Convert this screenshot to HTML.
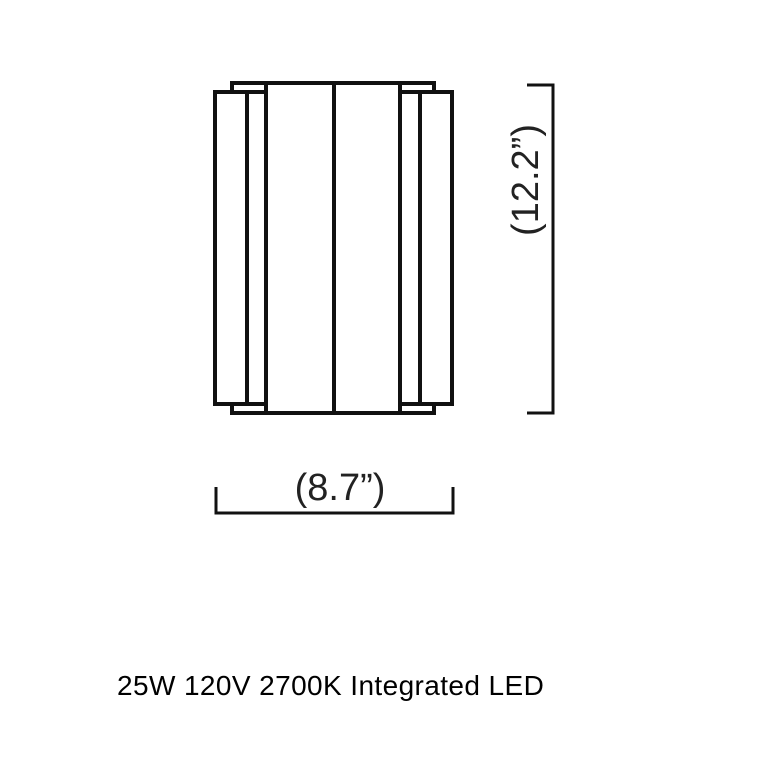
<!DOCTYPE html>
<html><head><style>
html,body{margin:0;padding:0;background:#fff;}
body{width:782px;height:782px;position:relative;overflow:hidden;}
</style></head><body>
<svg width="782" height="782" xmlns="http://www.w3.org/2000/svg" style="position:absolute;left:0;top:0">
<g fill="none" stroke="#111" stroke-width="4" stroke-linejoin="miter">
<rect x="266" y="83" width="134" height="330"/>
<polyline points="232,92 232,83 434,83 434,92"/>
<polyline points="232,404 232,413 434,413 434,404"/>
<rect x="215" y="92" width="51" height="312"/>
<rect x="400" y="92" width="52" height="312"/>
<line x1="247" y1="92" x2="247" y2="404"/>
<line x1="420" y1="92" x2="420" y2="404"/>
<line x1="334" y1="83" x2="334" y2="413"/>
</g>
<g fill="none" stroke="#111" stroke-width="3">
<polyline points="527,85 553,85 553,413 527,413"/>
<polyline points="216,487 216,513 453,513 453,487"/>
</g>
<text x="340" y="500" font-family="Liberation Sans, sans-serif" font-size="38" text-anchor="middle" fill="#222">(8.7”)</text>
<text transform="translate(538,180) rotate(-90)" x="0" y="0" font-family="Liberation Sans, sans-serif" font-size="38" text-anchor="middle" fill="#222">(12.2”)</text>
<text x="117" y="695" font-family="Liberation Sans, sans-serif" font-size="28" letter-spacing="0.4" fill="#000">25W 120V 2700K Integrated LED</text>
</svg>
</body></html>
